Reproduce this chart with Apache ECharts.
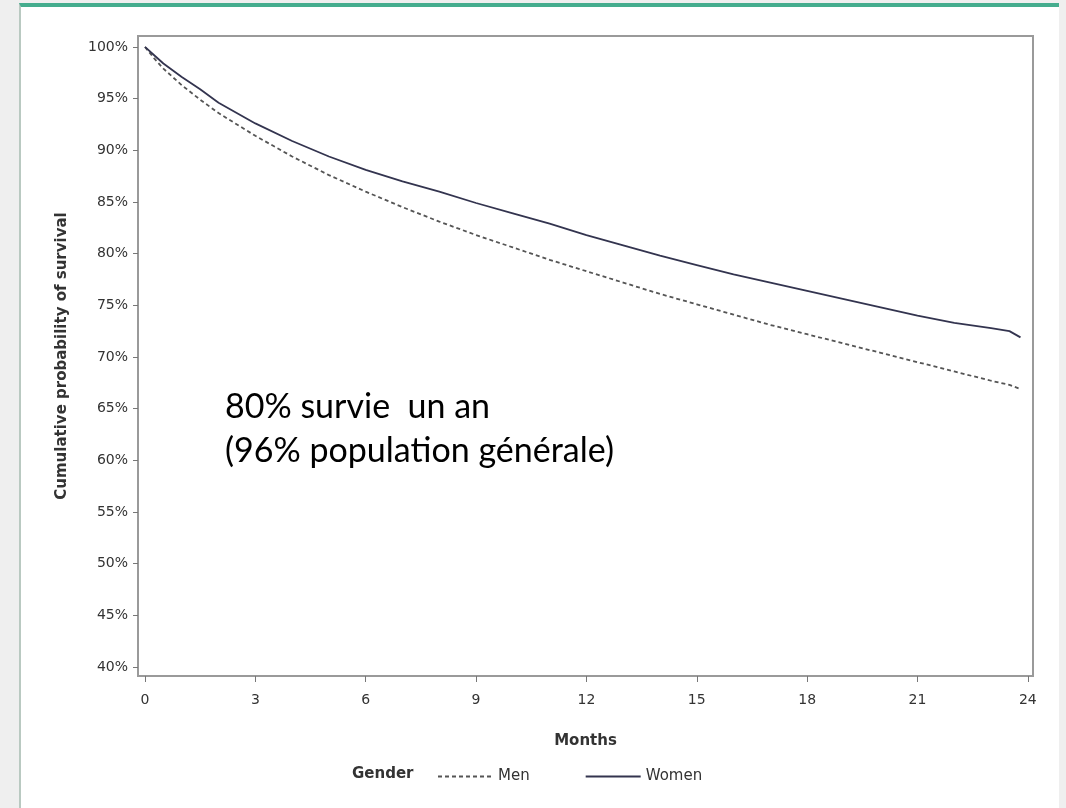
<!DOCTYPE html>
<html>
<head>
<meta charset="utf-8">
<script src="https://cdn.jsdelivr.net/npm/echarts@6/dist/echarts.min.js"></script>
<style>
  html, body { margin: 0; padding: 0; background: #efefef; width: 1066px; height: 808px; overflow: hidden; }
  #panel { position: absolute; left: 19px; top: 3px; width: 1040px; height: 805px; background: #ffffff;
           border-top: 4px solid #45ad8e; border-left: 2px solid #b9c9c1; box-sizing: border-box; }
  #chart { position: absolute; left: 0; top: 0; width: 1066px; height: 808px; }
</style>
</head>
<body>
<div id="panel"></div>
<div id="chart"></div>
<script>
// ---- data ----
const months = [0, 0.25, 0.5, 1, 1.5, 2, 3, 4, 5, 6, 7, 8, 9, 10, 11, 12, 13, 14, 15, 16, 17, 18, 19, 20, 21, 22, 23, 23.5, 23.8];
const women  = [100, 99.2, 98.4, 97.1, 95.9, 94.6, 92.6, 90.9, 89.4, 88.1, 87.0, 86.0, 84.9, 83.9, 82.9, 81.8, 80.8, 79.8, 78.9, 78.0, 77.2, 76.4, 75.6, 74.8, 74.0, 73.3, 72.8, 72.5, 71.9];
const men    = [100, 98.9, 97.9, 96.3, 94.9, 93.6, 91.4, 89.4, 87.6, 86.0, 84.5, 83.1, 81.8, 80.6, 79.4, 78.3, 77.2, 76.1, 75.1, 74.1, 73.1, 72.2, 71.3, 70.4, 69.5, 68.6, 67.7, 67.3, 66.9];
const xTicks = [0, 3, 6, 9, 12, 15, 18, 21, 24];
const yTicks = [40, 45, 50, 55, 60, 65, 70, 75, 80, 85, 90, 95, 100];
const seriesNames = ['Men', 'Women'];
const legendTitle = 'Gender';
const xTitle = 'Months';
const yTitle = 'Cumulative probability of survival';
const noteLines = ['80% survie  un an', '(96% population générale)'];

const pairs = (ys) => months.map((m, i) => [m, ys[i]]);

const chart = echarts.init(document.getElementById('chart'), null, { renderer: 'canvas' });
const axisFont = 'DejaVu Sans';
chart.setOption({
  animation: false,
  backgroundColor: 'transparent',
  grid: { left: 138, top: 36, right: 33, bottom: 132, show: true, borderColor: '#9a9a9a', borderWidth: 2, backgroundColor: '#ffffff' },
  xAxis: {
    type: 'value', min: -0.19, max: 24.14,
    name: xTitle, nameLocation: 'middle', nameGap: 58,
    nameTextStyle: { fontFamily: axisFont, fontWeight: 'bold', fontSize: 15, color: '#333' },
    axisLine: { show: true, onZero: false, lineStyle: { color: '#9a9a9a', width: 2 } },
    axisTick: { show: true, length: 6, customValues: xTicks, lineStyle: { color: '#777' } },
    axisLabel: { customValues: xTicks, margin: 17, fontFamily: axisFont, fontSize: 14, color: '#333' },
    splitLine: { show: false }
  },
  yAxis: {
    type: 'value', min: 39.13, max: 101.06,
    name: yTitle, nameLocation: 'middle', nameGap: 68, nameRotate: 90,
    nameTextStyle: { fontFamily: axisFont, fontWeight: 'bold', fontSize: 15, color: '#333' },
    axisLine: { show: true, onZero: false, lineStyle: { color: '#9a9a9a', width: 2 } },
    axisTick: { show: true, length: 5, customValues: yTicks, lineStyle: { color: '#777' } },
    axisLabel: { customValues: yTicks, margin: 10, fontFamily: axisFont, fontSize: 14, color: '#333', formatter: (v) => v + '%' },
    splitLine: { show: false }
  },
  legend: {
    data: seriesNames, left: 432, top: 764, itemWidth: 55, itemHeight: 14, itemGap: 55,
    itemStyle: { opacity: 0 },
    textStyle: { fontFamily: axisFont, fontSize: 15, color: '#333' }
  },
  series: [
    { name: seriesNames[0], type: 'line', data: pairs(men), symbol: 'none', showSymbol: false,
      lineStyle: { color: '#555555', width: 1.8, type: [4, 3] }, itemStyle: { color: '#555555' } },
    { name: seriesNames[1], type: 'line', data: pairs(women), symbol: 'none', showSymbol: false,
      lineStyle: { color: '#33344f', width: 1.8, type: 'solid' }, itemStyle: { color: '#33344f' } }
  ],
  graphic: [
    { type: 'text', left: 352, top: 767, style: { text: legendTitle, fontFamily: axisFont, fontWeight: 'bold', fontSize: 15, fill: '#333' } },
    { type: 'text', x: 225, y: 407, style: { text: noteLines[0], fontFamily: 'Lato', fontSize: 34, fill: '#000', verticalAlign: 'middle' } },
    { type: 'text', x: 225, y: 451, style: { text: noteLines[1], fontFamily: 'Lato', fontSize: 34, fill: '#000', verticalAlign: 'middle' } }
  ]
});
</script>
</body>
</html>
